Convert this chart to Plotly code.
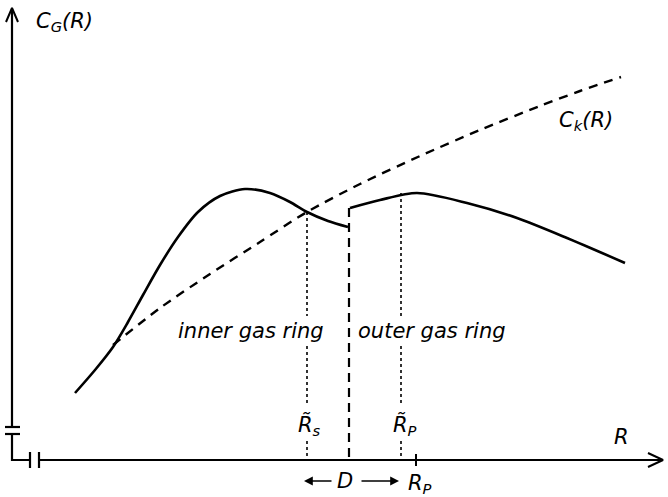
import plotly.graph_objects as go

# Schematic coordinates: R runs left->right, C runs top->bottom (screen-like units)
inner_R = [75, 95, 113, 128, 143, 160, 178, 198, 220, 245, 270, 290, 307, 328, 348]
inner_C = [393, 370, 347, 322, 295, 265, 237, 212, 196, 189, 193, 202, 212, 221, 227]

outer_R = [350, 380, 417, 467, 517, 567, 625]
outer_C = [208, 200, 193, 203, 218, 238, 263]

ck_R = [113, 160, 210, 260, 307, 360, 420, 480, 540, 580, 621]
ck_C = [345, 308, 274, 242, 212, 184, 156, 130, 106, 91, 77]

R_break = 349          # radius D where the gas rings separate
R_s_tilde = 307
R_p_tilde = 401
R_p = 416
axis_C = 460
axis_R0 = 12

INK = "#000000"
FONT = "DejaVu Sans"

fig = go.Figure()


def seg(xs, ys, width=2.2, dash="solid", shape="linear", smoothing=1.0):
    fig.add_trace(go.Scatter(
        x=xs, y=ys, mode="lines",
        line=dict(color=INK, width=width, dash=dash, shape=shape,
                  smoothing=smoothing),
        hoverinfo="skip", showlegend=False, connectgaps=False))


# C_k(R) dashed curve
seg(ck_R, ck_C, width=2.4, dash="9px,7px", shape="spline", smoothing=0.8)
# Gas rotation curves
seg(inner_R, inner_C, width=2.6, shape="spline", smoothing=0.8)
seg(outer_R, outer_C, width=2.6, shape="spline", smoothing=0.8)
# Ring boundary at D
seg([R_break, R_break], [outer_C[0], axis_C], width=2.2, dash="9px,6px")

# Dotted markers for R~s and R~p (interrupted around labels)
for r, top in ((R_s_tilde, ck_C[4]), (R_p_tilde, outer_C[2])):
    seg([r, r, None, r, r, None, r, r],
        [top, 316, None, 346, 405, None, 441, axis_C],
        width=1.6, dash="dot")

# Vertical axis with break
seg([axis_R0, axis_R0], [427, 9], width=2.2)
seg([5, 20], [427, 427], width=2.2)
seg([5, 20], [434, 434], width=2.2)
seg([axis_R0, axis_R0, 30], [434, axis_C, axis_C], width=2.2)
seg([6, axis_R0, 18], [22, 8, 22], width=2.0)
# Horizontal axis with break
seg([30, 30], [452, 468], width=2.2)
seg([39, 39], [452, 468], width=2.2)
seg([39, 662], [axis_C, axis_C], width=2.2)
seg([648, 663, 648], [453, axis_C, 467], width=2.0)
# Tick at R_p
seg([R_p, R_p], [454, 466], width=2.0)


def label(x, y, text, size=21, xanchor="center"):
    fig.add_annotation(x=x, y=y, text=text, showarrow=False,
                       xanchor=xanchor, yanchor="middle",
                       font=dict(family=FONT, size=size, color=INK))


label(34, 22, "<i>C<sub>G</sub>(R)</i>", xanchor="left")
label(557, 121, "<i>C<sub>k</sub>(R)</i>", xanchor="left")
label(251, 331, "<i>inner gas ring</i>")
label(432, 331, "<i>outer gas ring</i>")
label(R_s_tilde + 2, 425, "<i>R\u0303<sub>s</sub></i>")
label(R_p_tilde + 4, 425, "<i>R\u0303<sub>P</sub></i>")
label(621, 437, "<i>R</i>")
label(345, 481, "<i>D</i>")
label(R_p + 4, 484, "<i>R<sub>P</sub></i>")

# Arrows either side of D
fig.add_annotation(x=304, y=481, ax=333, ay=481, xref="x", yref="y",
                   axref="x", ayref="y", text="", showarrow=True,
                   arrowhead=2, arrowsize=1.1, arrowwidth=1.6, arrowcolor=INK)
fig.add_annotation(x=399, y=481, ax=360, ay=481, xref="x", yref="y",
                   axref="x", ayref="y", text="", showarrow=True,
                   arrowhead=2, arrowsize=1.1, arrowwidth=1.6, arrowcolor=INK)

fig.update_xaxes(range=[0, 668], visible=False, fixedrange=True)
fig.update_yaxes(range=[497, 0], visible=False, fixedrange=True)
fig.update_layout(width=668, height=497, margin=dict(l=0, r=0, t=0, b=0),
                  paper_bgcolor="white", plot_bgcolor="white")

fig.write_html("out.html")
